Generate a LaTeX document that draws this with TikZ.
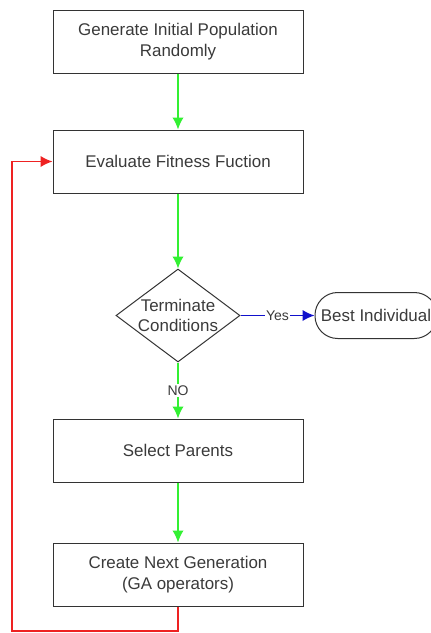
\documentclass[tikz,border=0pt]{standalone}
\usepackage{fontspec}
\setmainfont{Liberation Sans}
\usetikzlibrary{arrows.meta}
\usetikzlibrary{positioning,shapes}
\definecolor{boxgray}{HTML}{333333}
\definecolor{textgray}{HTML}{3A3A3A}
\definecolor{flowgreen}{HTML}{33F033}
\definecolor{loopred}{HTML}{EE2222}
\definecolor{yesblue}{HTML}{1111CC}

\begin{document}
\begin{tikzpicture}[%
        x=0.75pt, y=-0.75pt,
        every node/.style={text=textgray, inner sep=0pt, font=\fontsize{12.7}{15.6}\selectfont},
        stepbox/.style={rectangle, draw=boxgray, line width=0.75pt, minimum width=187.5pt, minimum height=47.25pt, align=center},
        decision/.style={diamond, draw=boxgray, line width=0.75pt, minimum width=93pt, minimum height=69.75pt},
        terminal/.style={rectangle, rounded corners=17pt, draw=boxgray, line width=0.75pt, minimum width=91.5pt, minimum height=34.5pt},
        flow/.style={-{Latex[length=9pt,width=8.5pt]}, draw=flowgreen, line width=1.1pt},
        tag/.style={fill=white, inner sep=1pt, font=\fontsize{10.5}{12}\selectfont},
        node distance=42pt
      ]
      \useasboundingbox (0,0) rectangle (431,633);
      \node [stepbox] (init) at (178,41.5) {Generate Initial Population\\Randomly};
      \node [stepbox, below=42pt of init] (eval) {Evaluate Fitness Fuction};
      \node [decision, below=56.25pt of eval, label={[align=center]center:Terminate\\Conditions}] (term) {};
      \node [terminal, right=55.5pt of term] (best) {Best Individual};
      \node [stepbox, below=42pt of term] (select) {Select Parents};
      \node [stepbox, below=45pt of select] (create) {Create Next Generation\\(GA operators)};
      \coordinate (loopturn) at (12,631);
      \path [flow] (init) edge [flow] (eval)
      (eval) edge [flow] (term)
      (term) edge [flow] node [tag] {NO} (select)
      (select) edge [flow] (create);
      \draw [flow, draw=yesblue] (term.east) -- node [tag] {Yes} (best.west);
      \draw [flow, draw=loopred] (create.south) |- (loopturn) |- (eval.west);
    \end{tikzpicture}
\end{document}
